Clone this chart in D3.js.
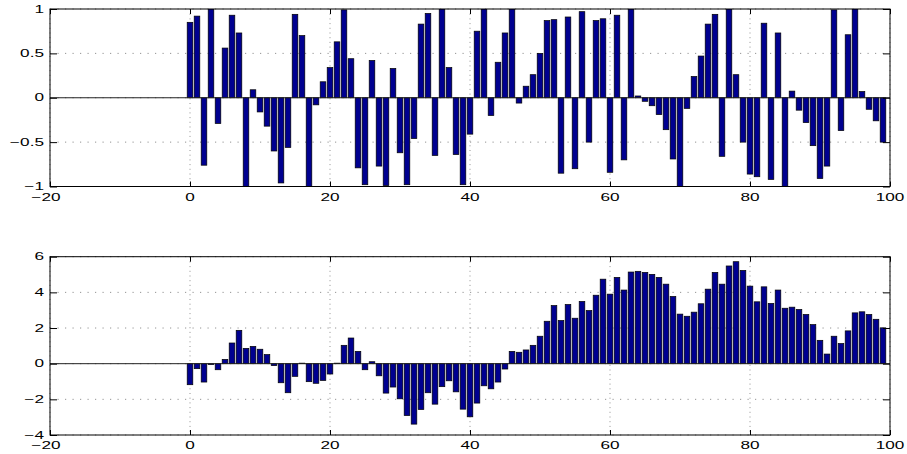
<!DOCTYPE html>
<html>
<head>
<meta charset="utf-8">
<script src="https://cdn.jsdelivr.net/npm/d3@7"></script>
<style>
  body { margin: 0; background: #fff; }
  svg { display: block; }
  text { font-family: "Liberation Sans", Arial, sans-serif; font-size: 10px; fill: #000; }
</style>
</head>
<body>
<div id="chart"></div>
<script>
// bar positions 0..99
const xs = d3.range(0, 100);

// top panel values (random in [-1, 1])
const topValues = [
  0.85, 0.92, -0.76, 1.00, -0.29, 0.56, 0.93, 0.73, -1.00, 0.09,
  -0.16, -0.32, -0.60, -0.96, -0.56, 0.94, 0.70, -1.00, -0.08, 0.18,
  0.34, 0.63, 0.99, 0.44, -0.79, -0.98, 0.42, -0.77, -0.99, 0.33,
  -0.62, -0.98, -0.46, 0.83, 0.95, -0.65, 1.00, 0.34, -0.64, -0.98,
  -0.41, 0.75, 1.00, -0.20, 0.40, 0.73, 1.00, -0.06, 0.13, 0.26,
  0.50, 0.87, 0.88, -0.85, 0.91, -0.80, 0.97, -0.50, 0.87, 0.89,
  -0.84, 0.93, -0.70, 1.00, 0.02, -0.04, -0.09, -0.19, -0.36, -0.69,
  -1.00, -0.12, 0.24, 0.47, 0.83, 0.94, -0.66, 1.00, 0.26, -0.50,
  -0.86, -0.89, 0.84, -0.92, 0.73, -1.00, 0.075, -0.14, -0.28, -0.54,
  -0.91, -0.77, 0.99, -0.37, 0.71, 1.00, 0.07, -0.13, -0.26, -0.50
];

// bottom panel values
const bottomValues = [
  -1.18, -0.28, -1.03, -0.05, -0.34, 0.24, 1.16, 1.87, 0.86, 0.97,
  0.81, 0.51, -0.11, -1.07, -1.63, -0.71, 0.03, -1.01, -1.10, -0.94,
  -0.58, 0.03, 1.03, 1.44, 0.69, -0.34, 0.11, -0.68, -1.65, -1.31,
  -1.97, -2.91, -3.39, -2.57, -1.63, -2.27, -1.29, -0.96, -1.58, -2.55,
  -2.98, -2.21, -1.24, -1.41, -1.03, -0.30, 0.69, 0.64, 0.77, 1.03,
  1.54, 2.38, 3.26, 2.42, 3.32, 2.55, 3.49, 2.98, 3.84, 4.74,
  3.90, 4.84, 4.13, 5.14, 5.18, 5.12, 5.01, 4.84, 4.46, 3.77,
  2.78, 2.66, 2.89, 3.36, 4.18, 5.12, 4.46, 5.48, 5.72, 5.23,
  4.35, 3.47, 4.31, 3.38, 4.13, 3.11, 3.17, 3.04, 2.76, 2.19,
  1.31, 0.54, 1.54, 1.13, 1.84, 2.85, 2.91, 2.76, 2.49, 2.01
];

const xTicks = [-20, 0, 20, 40, 60, 80, 100];
const topYTicks = [-1, -0.5, 0, 0.5, 1];
const bottomYTicks = [-4, -2, 0, 2, 4, 6];

const width = 907, height = 454;
const left = 50, right = 890;
const stretch = 1.72; // text is wider than it is tall in the picture
const fmt = d3.format('~g');

const svg = d3.select('#chart')
  .append('svg')
  .attr('width', width)
  .attr('height', height);

const x = d3.scaleLinear().domain([-20, 100]).range([left, right]);

function panel(id, values, yDomain, yTicks, top, bottom) {
  const y = d3.scaleLinear().domain(yDomain).range([bottom, top]);
  const g = svg.append('g');

  g.append('clipPath').attr('id', id)
    .append('rect')
    .attr('x', left).attr('y', top)
    .attr('width', right - left).attr('height', bottom - top);

  // dotted grid
  g.selectAll('.vgrid')
    .data(xTicks)
    .enter().append('line')
    .attr('x1', d => x(d)).attr('x2', d => x(d))
    .attr('y1', top).attr('y2', bottom)
    .attr('stroke', '#777')
    .attr('stroke-width', 0.8)
    .attr('stroke-dasharray', '1,3.7');

  g.selectAll('.hgrid')
    .data(yTicks)
    .enter().append('line')
    .attr('x1', left).attr('x2', right)
    .attr('y1', d => y(d)).attr('y2', d => y(d))
    .attr('stroke', '#777')
    .attr('stroke-width', 0.8)
    .attr('stroke-dasharray', '1.2,6.3');

  // bars
  g.append('g')
    .attr('clip-path', 'url(#' + id + ')')
    .selectAll('rect')
    .data(values)
    .enter().append('rect')
    .attr('x', (d, i) => x(xs[i] - 0.4))
    .attr('width', x(0.8) - x(0))
    .attr('y', d => y(Math.max(0, d)))
    .attr('height', d => Math.abs(y(d) - y(0)))
    .attr('fill', '#000090')
    .attr('stroke', '#000')
    .attr('stroke-width', 0.7);

  // baseline
  g.append('line')
    .attr('x1', left).attr('x2', right)
    .attr('y1', y(0)).attr('y2', y(0))
    .attr('stroke', '#222')
    .attr('stroke-width', 1);

  // inward ticks on all four sides
  const axes = [
    [d3.axisBottom(x).tickValues(xTicks).tickSize(-5), 'translate(0,' + bottom + ')'],
    [d3.axisTop(x).tickValues(xTicks).tickSize(-5), 'translate(0,' + top + ')'],
    [d3.axisLeft(y).tickValues(yTicks).tickSize(-7), 'translate(' + left + ',0)'],
    [d3.axisRight(y).tickValues(yTicks).tickSize(-7), 'translate(' + right + ',0)']
  ];
  axes.forEach(([axis, tr]) => {
    const a = g.append('g')
      .attr('transform', tr)
      .call(axis.tickFormat(''));
    a.select('.domain').remove();
    a.selectAll('line').attr('stroke', '#000');
  });

  // box
  g.append('rect')
    .attr('x', left).attr('y', top)
    .attr('width', right - left).attr('height', bottom - top)
    .attr('fill', 'none')
    .attr('stroke', '#000')
    .attr('stroke-width', 1);

  // tick labels
  g.selectAll('.xlab')
    .data(xTicks)
    .enter().append('text')
    .attr('transform', d => 'translate(' + (x(d) - (d < 0 ? 4 : 0)) + ',' + (bottom + 14) + ') scale(' + stretch + ',1)')
    .attr('text-anchor', 'middle')
    .text(d => fmt(d));

  g.selectAll('.ylab')
    .data(yTicks)
    .enter().append('text')
    .attr('transform', d => 'translate(' + (left - 6) + ',' + (y(d) + 3.6) + ') scale(' + stretch + ',1)')
    .attr('text-anchor', 'end')
    .text(d => fmt(d));
}

panel('clipTop', topValues, [-1, 1], topYTicks, 9, 186.5);
panel('clipBottom', bottomValues, [-4, 6], bottomYTicks, 256.7, 435);
</script>
</body>
</html>
